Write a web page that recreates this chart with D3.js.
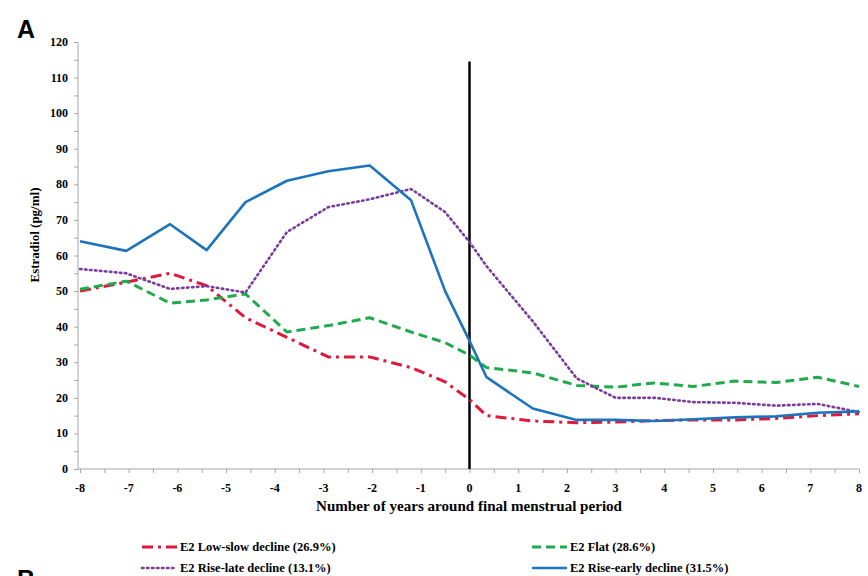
<!DOCTYPE html>
<html>
<head>
<meta charset="utf-8">
<script src="https://cdn.jsdelivr.net/npm/d3@7"></script>
<style>
  body { margin: 0; background: #fff; }
  text { font-family: "Liberation Serif", "DejaVu Serif", serif; font-weight: bold; }
</style>
</head>
<body>
<div id="viz-container"></div>
<script>
// years around final menstrual period (shared x for every trajectory)
let years = [-8, -7.05, -6.15, -5.4, -4.6, -3.75, -2.9, -2.05, -1.2, -0.5, 0, 0.35, 1.3, 2.2, 3.0, 3.8, 4.6, 5.45, 6.3, 7.15, 8];

// estradiol values (pg/ml)
let lowSlow   = [50, 52.5, 55, 51.5, 42.5, 37, 31.5, 31.5, 28.5, 24.5, 19.5, 15, 13.5, 13, 13.2, 13.6, 13.8, 13.8, 14.2, 15, 15.5];
let flat      = [50.5, 52.8, 46.6, 47.5, 49.2, 38.5, 40.3, 42.5, 38.5, 35.5, 32, 28.5, 27, 23.5, 23, 24.2, 23.2, 24.7, 24.3, 25.8, 23.2];
let riseLate  = [56.2, 55, 50.6, 51.4, 49.6, 66.6, 73.6, 75.8, 78.7, 72.2, 63.8, 57, 41.5, 25.5, 20, 20, 18.8, 18.6, 17.8, 18.3, 16];
let riseEarly = [64, 61.3, 68.8, 61.5, 75, 81, 83.7, 85.3, 75.5, 50, 36, 25.8, 17, 13.8, 13.8, 13.5, 14, 14.5, 14.8, 15.8, 16.2];

let seriesNames = ["E2 Low-slow decline (26.9%)", "E2 Flat (28.6%)", "E2 Rise-late decline (13.1%)", "E2 Rise-early decline (31.5%)"];

let xTicks = [-8, -7, -6, -5, -4, -3, -2, -1, 0, 1, 2, 3, 4, 5, 6, 7, 8];
let yTicks = [0, 10, 20, 30, 40, 50, 60, 70, 80, 90, 100, 110, 120];

let series = [
  {name: seriesNames[0], values: lowSlow,   color: "#e2183a", dash: "11,5,3,5", width: 3},
  {name: seriesNames[1], values: flat,      color: "#21aa4c", dash: "9,5",      width: 3},
  {name: seriesNames[2], values: riseLate,  color: "#7a3a9e", dash: "1.5,3.5",  width: 2.6},
  {name: seriesNames[3], values: riseEarly, color: "#1e73bd", dash: null,       width: 2.6}
];

//create canvas
let viz = d3.select("#viz-container")
    .append("svg")
    .attr("width", 868)
    .attr("height", 576)
;

let x = d3.scaleLinear().domain([-8, 8]).range([80, 859]);
let y = d3.scaleLinear().domain([0, 120]).range([469, 42]);

// panel letters (B is cut by the bottom edge, as in the source figure)
viz.append("text").attr("x", 17).attr("y", 38).text("A")
  .style("font-family", "Liberation Sans, Arial, sans-serif").style("font-size", "25px");
viz.append("text").attr("x", 17).attr("y", 588).text("B")
  .style("font-family", "Liberation Sans, Arial, sans-serif").style("font-size", "25px");

// y axis
let yAxis = viz.append("g").attr("transform", "translate(78,0)")
  .call(d3.axisLeft(y).tickValues(d3.range(0, 121, 5)).tickSize(4).tickFormat(""));
yAxis.selectAll("path,line").attr("stroke", "#a6a6a6");
yAxis.select(".domain").attr("d", "M0," + y(120) + "V" + y(0));
viz.append("g").selectAll("text").data(yTicks).enter()
  .append("text")
    .attr("x", 68)
    .attr("y", d => y(d) + 4)
    .attr("text-anchor", "end")
    .style("font-size", "12px")
    .text(d => d)
;

// x axis
let xAxis = viz.append("g").attr("transform", "translate(0," + y(0) + ")")
  .call(d3.axisBottom(x).tickValues(d3.range(-8, 8.01, 0.5)).tickSize(4).tickFormat(""));
xAxis.selectAll("path,line").attr("stroke", "#a6a6a6");
xAxis.select(".domain").attr("d", "M78,0H" + x(8));
viz.append("g").selectAll("text").data(xTicks).enter()
  .append("text")
    .attr("x", d => x(d))
    .attr("y", 492)
    .attr("text-anchor", "middle")
    .style("font-size", "12px")
    .text(d => d)
;

// axis titles
viz.append("text")
  .attr("transform", "translate(39,235) rotate(-90)")
  .attr("text-anchor", "middle")
  .style("font-size", "13px")
  .text("Estradiol  (pg/ml)");

viz.append("text")
  .attr("x", 469)
  .attr("y", 511)
  .attr("text-anchor", "middle")
  .attr("textLength", 306)
  .attr("lengthAdjust", "spacingAndGlyphs")
  .style("font-size", "14px")
  .text("Number  of years around final menstrual period");

// final menstrual period marker
viz.append("line")
  .attr("x1", x(0)).attr("x2", x(0))
  .attr("y1", y(114.5)).attr("y2", y(0))
  .attr("stroke", "black")
  .attr("stroke-width", 2.5);

// trajectories
let line = d3.line()
  .x((d, i) => x(years[i]))
  .y(d => y(d));

viz.selectAll(".traj").data(series).enter()
  .append("path")
    .attr("class", "traj")
    .attr("d", d => line(d.values))
    .attr("fill", "none")
    .attr("stroke", d => d.color)
    .attr("stroke-width", d => d.width)
    .attr("stroke-dasharray", d => d.dash)
    .attr("stroke-linecap", d => d.dash && d.dash.startsWith("1.5") ? "round" : "butt")
    .attr("stroke-linejoin", "round")
;

// legend
let legendPos = [[142, 547], [532, 547], [142, 568], [532, 568]];
let legend = viz.selectAll(".legend").data(series).enter()
  .append("g")
    .attr("class", "legend")
    .attr("transform", (d, i) => "translate(" + legendPos[i][0] + "," + legendPos[i][1] + ")")
;
legend.append("line")
  .attr("x1", 0).attr("x2", 35)
  .attr("y1", 0).attr("y2", 0)
  .attr("stroke", d => d.color)
  .attr("stroke-width", d => d.width)
  .attr("stroke-dasharray", d => d.dash)
  .attr("stroke-linecap", d => d.dash && d.dash.startsWith("1.5") ? "round" : "butt");
legend.append("text")
  .attr("x", 38)
  .attr("y", 4)
  .style("font-size", "12.5px")
  .text(d => d.name);
</script>
</body>
</html>
